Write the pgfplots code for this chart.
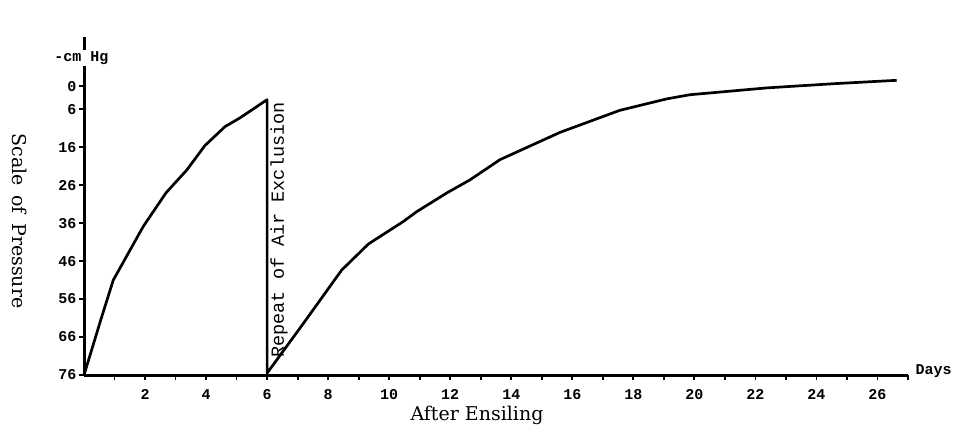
\documentclass[border=0pt]{standalone}
\usepackage{fontspec}
\setmainfont{DejaVu Serif}
\setmonofont{Liberation Mono}
\usepackage{pgfplots}
\pgfplotsset{compat=1.18}
\begin{document}
\begin{tikzpicture}
\path[use as bounding box] (0,0) rectangle (959pt,440pt);
\begin{axis}[
  scale only axis, width=824pt, height=338pt,
  at={(84pt,65pt)}, anchor=south west,
  xmin=0, xmax=27, ymin=-13, ymax=76, y dir=reverse,
  axis x line=bottom, axis y line=left,
  axis line style={-, line width=3pt},
  xtick={2,4,...,26}, minor xtick={1,3,...,27},
  ytick={0,6,16,26,36,46,56,66,76},
  tick align=outside, major tick length=5pt, minor tick length=5pt,
  tick style={line width=1.8pt, black},
  /pgf/number format/assume math mode=true,
  every tick label/.append style={font=\ttfamily\bfseries\fontsize{15}{15}\selectfont},
  xticklabel style={yshift=-6pt},
  yticklabel style={xshift=1pt},
  clip=false,
]
\addplot[black, line width=2.7pt, line join=round] coordinates {
  (0,76) (0.58,60.7) (0.96,51.0) (1.94,36.9) (2.69,28.0) (3.37,22.0)
  (3.96,15.6) (4.62,10.6) (5.11,8.3) (6.0,3.5) (6.0,75.5)
  (7.19,62.4) (8.44,48.4) (9.32,41.5) (10.46,35.6) (10.9,33.0)
  (11.88,28.1) (12.65,24.6) (13.63,19.3) (15.6,12.1) (17.56,6.3)
  (19.09,3.3) (19.85,2.2) (22.37,0.4) (24.55,-0.7) (26.63,-1.6)
};
\end{axis}
\node[fill=white, inner sep=1pt, font=\ttfamily\bfseries\fontsize{15}{15}\selectfont] at (81.5pt,382pt) {-cm Hg};
\node[anchor=west, font=\ttfamily\bfseries\fontsize{15}{15}\selectfont] at (912pt,69pt) {Days};
\node[rotate=90, font=\ttfamily\fontsize{18.5}{18.5}\selectfont] at (279pt,210pt) {Repeat of Air Exclusion};
\node[rotate=-90, font=\fontsize{19}{19}\selectfont] at (20pt,219pt) {Scale\hspace{0.5em}of\hspace{0.5em}Pressure};
\node[font=\fontsize{19}{19}\selectfont] at (477pt,25pt) {After Ensiling};
\end{tikzpicture}
\end{document}
